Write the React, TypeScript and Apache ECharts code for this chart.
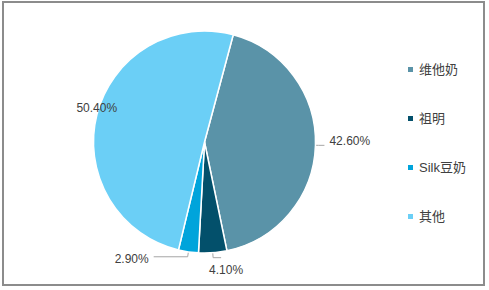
import React, { useEffect, useRef } from "react";
import * as echarts from "echarts";

const categories = ["维他奶", "祖明", "Silk豆奶", "其他"];
const shares = [42.6, 4.1, 2.9, 50.4];
const colors = ["#5a93a8", "#03506b", "#00a4db", "#6bcff6"];

const FONT = "'Liberation Sans', 'Noto Sans CJK SC', sans-serif";

// per-slice label nudges (offsets only)
const labelShift = [
  { dx: 0, dy: -4 },
  { dx: -17, dy: 12 },
  { dx: 0, dy: 2 },
  { dx: 38, dy: -5 },
];
const lineLengths = [
  { length: 3, length2: 6, show: true },
  { length: 5, length2: 8, show: true },
  { length: 5, length2: 34, show: true },
  { length: 5, length2: 8, show: false },
];

export default function App() {
  const ref = useRef<HTMLDivElement>(null);
  useEffect(() => {
    if (!ref.current) return;
    const chart = echarts.init(ref.current, null, { renderer: "svg" });
    chart.setOption({
      animation: false,
      backgroundColor: "#ffffff",
      color: colors,
      textStyle: { fontFamily: FONT },
      graphic: [
        {
          type: "rect",
          shape: { x: 3, y: 2, width: 481, height: 283 },
          style: { fill: "none", stroke: "#8c8c8c", lineWidth: 2 },
          silent: true,
        },
      ],
      legend: {
        orient: "vertical",
        left: 401,
        top: 58,
        icon: "rect",
        itemWidth: 7,
        itemHeight: 7,
        itemGap: 36,
        textStyle: { fontSize: 13, color: "#404040", fontFamily: FONT },
        data: categories,
      },
      series: [
        {
          type: "pie",
          center: [204.5, 142],
          radius: 111,
          startAngle: 75,
          clockwise: true,
          itemStyle: { borderColor: "#ffffff", borderWidth: 1.5 },
          label: {
            show: true,
            position: "outside",
            fontSize: 12,
            color: "#404040",
            fontFamily: FONT,
            formatter: (p: any) => Number(p.value).toFixed(2) + "%",
          },
          labelLine: {
            show: true,
            length: 5,
            length2: 8,
            lineStyle: { color: "#a6a6a6", width: 1 },
          },
          labelLayout: (params: any) => {
            const s = labelShift[params.dataIndex];
            return s ? { dx: s.dx, dy: s.dy } : {};
          },
          data: categories.map((name, i) => ({
            name,
            value: shares[i],
            labelLine: lineLengths[i],
          })),
        },
      ],
    });
    return () => chart.dispose();
  }, []);
  return (
    <div
      ref={ref}
      style={{ position: "fixed", left: 0, top: 0, width: 489, height: 290 }}
    />
  );
}
